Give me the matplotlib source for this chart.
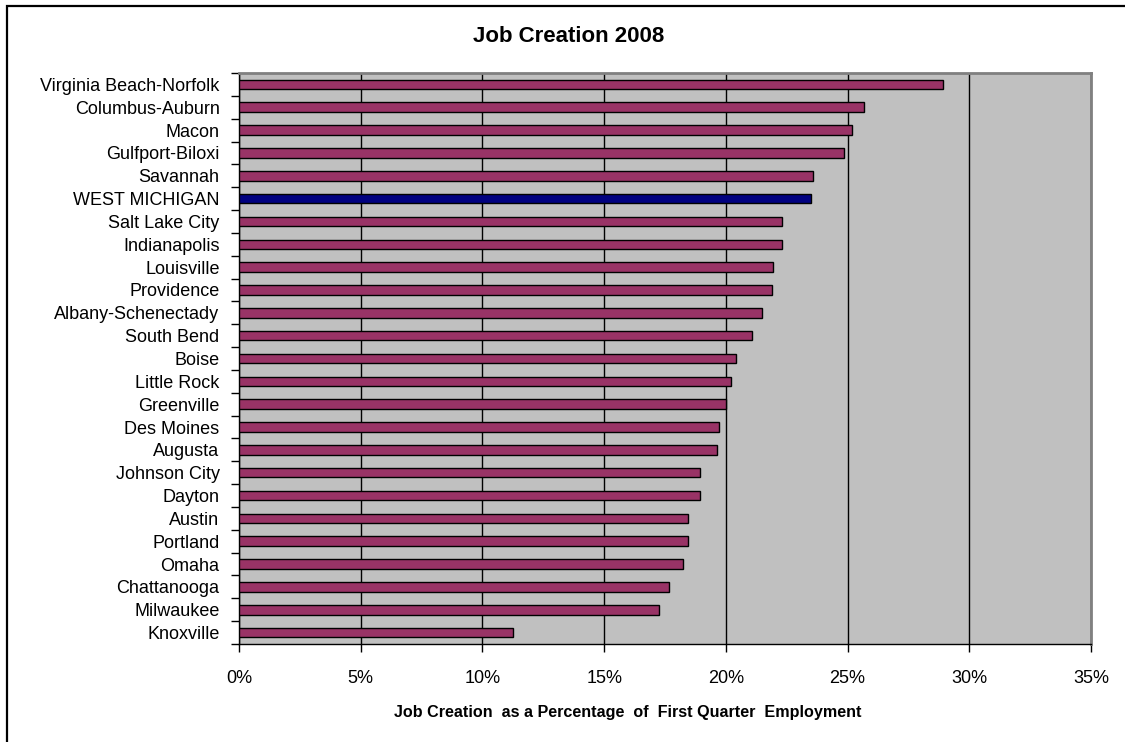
import matplotlib
matplotlib.use("Agg")
import matplotlib.pyplot as plt
from matplotlib.patches import Rectangle
from matplotlib.ticker import FixedLocator, FuncFormatter

plt.rcParams['font.family'] = ['Liberation Sans', 'DejaVu Sans']

cities = [
    "Virginia Beach-Norfolk", "Columbus-Auburn", "Macon", "Gulfport-Biloxi",
    "Savannah", "WEST MICHIGAN", "Salt Lake City", "Indianapolis", "Louisville",
    "Providence", "Albany-Schenectady", "South Bend", "Boise", "Little Rock",
    "Greenville", "Des Moines", "Augusta", "Johnson City", "Dayton", "Austin",
    "Portland", "Omaha", "Chattanooga", "Milwaukee", "Knoxville",
]
job_creation_pct = [
    28.94, 25.67, 25.19, 24.85, 23.59, 23.48, 22.32, 22.32, 21.95, 21.90,
    21.49, 21.06, 20.42, 20.23, 20.00, 19.71, 19.64, 18.93, 18.93, 18.46,
    18.46, 18.22, 17.68, 17.27, 11.27,
]
highlight = "WEST MICHIGAN"
x_ticks = [0, 5, 10, 15, 20, 25, 30, 35]

W, H = 1125, 742
fig = plt.figure(figsize=(W / 100, H / 100), dpi=100)
fig.patch.set_facecolor("white")

# outer chart frame (runs off the right and bottom edges)
fig.patches.append(Rectangle((7 / W, -0.05), 1.2, 1 - 6 / H + 0.05,
                             transform=fig.transFigure, fill=False,
                             edgecolor="black", linewidth=1.6, zorder=0))

ax = fig.add_axes([239 / W, 1 - 644 / H, (1091 - 239) / W, (644 - 73) / H])
ax.set_facecolor("#C0C0C0")

ypos = list(range(len(cities)))
colors = ["#000080" if c == highlight else "#993366" for c in cities]
ax.barh(ypos, job_creation_pct, height=0.42, color=colors,
        edgecolor="black", linewidth=1.0, zorder=3)

ax.set_xlim(0, 35)
ax.set_ylim(len(cities) - 0.5, -0.5)

# x axis
ax.xaxis.set_major_locator(FixedLocator(x_ticks))
ax.xaxis.set_major_formatter(FuncFormatter(lambda v, p: f"{v:.0f}%"))
ax.tick_params(axis="x", direction="out", length=6, width=1.0,
               labelsize=13, pad=13, color="black")
ax.grid(axis="x", color="black", linewidth=1.0, zorder=1)

# y axis: labels at category centres, tick marks at boundaries
ax.yaxis.set_major_locator(FixedLocator(ypos))
ax.set_yticklabels(cities)
ax.yaxis.set_minor_locator(FixedLocator([i - 0.5 for i in range(len(cities) + 1)]))
ax.tick_params(axis="y", which="major", length=0, labelsize=13, pad=14)
ax.tick_params(axis="y", which="minor", direction="out", length=6, width=1.0,
               color="black")

for side in ("left", "bottom"):
    ax.spines[side].set_color("black")
    ax.spines[side].set_linewidth(1.0)
for side in ("top", "right"):
    ax.spines[side].set_color("#808080")
    ax.spines[side].set_linewidth(2.0)

fig.text(569 / W, 1 - 37 / H, "Job Creation 2008", ha="center", va="center",
         fontsize=16, fontweight="bold")
fig.text(628 / W, 1 - 712 / H,
         "Job Creation  as a Percentage  of  First Quarter  Employment",
         ha="center", va="center", fontsize=11.6, fontweight="bold")

fig.savefig("out.png", dpi=100)
